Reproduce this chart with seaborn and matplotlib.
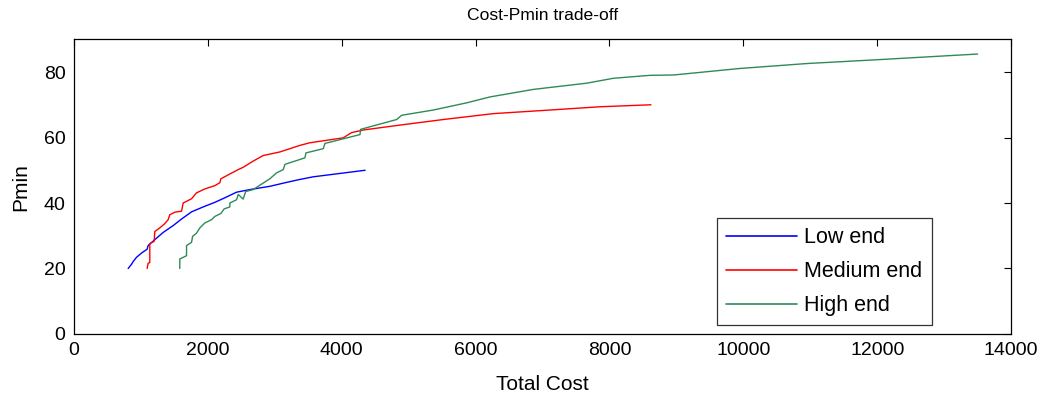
import matplotlib
matplotlib.use("Agg")
import matplotlib.pyplot as plt
import seaborn as sns
import pandas as pd

# Pareto fronts: total cost vs. Pmin for three product tiers
low_cost = [810, 860, 884, 934, 1009, 1094, 1108, 1208, 1332, 1482, 1607, 1757,
            1930, 2105, 2255, 2429, 2628, 2927, 3177, 3376, 3575, 4350]
low_pmin = [20, 21.3, 22.1, 23.4, 24.7, 25.9, 27, 28.8, 31, 33.1, 35.1, 37.3,
            38.8, 40.2, 41.6, 43.3, 44.1, 45.1, 46.3, 47.2, 48, 50]

med_cost = [1094, 1108, 1133, 1133, 1198, 1208, 1283, 1357, 1407, 1432, 1507, 1607,
            1632, 1757, 1831, 1955, 2105, 2180, 2195, 2453, 2528, 2678, 2827, 3077,
            3376, 3525, 4023, 4148, 4322, 4871, 5518, 6266, 7113, 7861, 8620]
med_pmin = [20, 21.6, 21.8, 27.6, 28.3, 31.3, 32.4, 33.7, 34.9, 36.4, 37.2, 37.5,
            40, 41.3, 43.1, 44.3, 45.3, 46.2, 47.4, 50.2, 50.9, 52.8, 54.5, 55.6,
            57.6, 58.4, 59.9, 61.5, 62.3, 63.8, 65.5, 67.3, 68.4, 69.4, 70]

high_cost = [1581, 1581, 1682, 1682, 1757, 1772, 1831, 1881, 1955, 2055, 2105, 2195,
             2244, 2329, 2329, 2429, 2454, 2528, 2565, 2678, 2752, 2927, 3027, 3127,
             3152, 3451, 3466, 3725, 3750, 4023, 4273, 4283, 4821, 4896, 5369, 5868,
             6216, 6864, 7662, 8060, 8609, 8957, 9954, 10951, 11946, 13500]
high_pmin = [20, 22.9, 23.9, 27, 28, 29.8, 30.8, 32.4, 33.9, 34.9, 35.9, 36.8,
             38.2, 38.8, 40, 41, 42.6, 41.2, 43.5, 44.1, 45.1, 47.4, 49.2, 50.2,
             51.8, 53.8, 55.3, 56.6, 58.2, 59.6, 60.9, 62.5, 65.5, 66.8, 68.4, 70.6,
             72.4, 74.7, 76.6, 78.1, 79, 79.1, 81.1, 82.6, 83.7, 85.5]

series_names = ["Low end", "Medium end", "High end"]
series_colors = ["#0000ff", "#ff0000", "#2e8b57"]

frames = []
for name, xs, ys in zip(series_names,
                        [low_cost, med_cost, high_cost],
                        [low_pmin, med_pmin, high_pmin]):
    frames.append(pd.DataFrame({"Total Cost": xs, "Pmin": ys, "tier": name}))
df = pd.concat(frames, ignore_index=True)

sns.set_style("white")
plt.rcParams["font.family"] = ["Liberation Sans", "DejaVu Sans"]
plt.rcParams["text.color"] = "black"
plt.rcParams["axes.labelcolor"] = "black"

fig = plt.figure(figsize=(10.46, 3.99), dpi=100)
ax = fig.add_axes([0.0707, 0.163, 0.8959, 0.7385])

sns.lineplot(data=df, x="Total Cost", y="Pmin", hue="tier", hue_order=series_names,
             palette=series_colors, estimator=None, sort=False, units="tier",
             linewidth=1.0, ax=ax)

ax.set_xlim(0, 14000)
ax.set_ylim(0, 90)
ax.set_xticks(range(0, 14001, 2000))
ax.set_yticks(range(0, 81, 20))
ax.tick_params(direction="in", length=5, width=0.8, colors="black",
               top=True, right=True, labelsize=14, pad=6)
for s in ax.spines.values():
    s.set_color("black")
    s.set_linewidth(0.9)
    s.set_visible(True)

ax.set_xlabel("Total Cost", fontsize=15, labelpad=11, color="black")
ax.set_ylabel("Pmin", fontsize=15, labelpad=10, color="black")
ax.set_title("Cost-Pmin trade-off", fontsize=12.6, pad=14, color="black")

leg = ax.legend(loc="lower left", bbox_to_anchor=(0.686, 0.03), fontsize=15.5,
                frameon=True, fancybox=False, edgecolor="black",
                handlelength=3.3, handletextpad=0.35, borderpad=0.42,
                labelspacing=0.6, borderaxespad=0, labelcolor="black")
leg.get_frame().set_linewidth(0.9)
for line in leg.get_lines():
    line.set_linewidth(1.2)

fig.savefig("out.png", dpi=100)
